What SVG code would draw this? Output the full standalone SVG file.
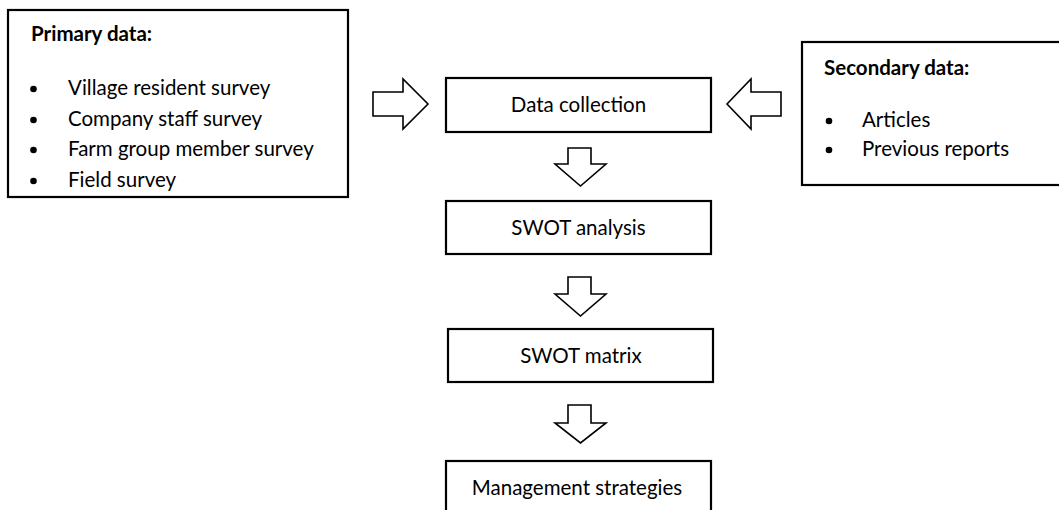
<svg xmlns="http://www.w3.org/2000/svg" width="1059" height="510" viewBox="0 0 1059 510">
  <style>
    .box { fill: #ffffff; stroke: #000000; stroke-width: 2.2; }
    .arrow { fill: #ffffff; stroke: #000000; stroke-width: 1.6; stroke-linejoin: miter; }
    .label { font-family: Lato, "Open Sans", "Liberation Sans", sans-serif; font-size: 20.5px; fill: #000000; }
    .title { font-weight: bold; }
    .mid { text-anchor: middle; }
    .dot { fill: #000000; }
  </style>
  <defs>
    <!-- the list of sources is cut off at the lower edge of its frame -->
    <clipPath id="primary-clip">
      <rect x="8" y="10" width="340" height="182"/>
    </clipPath>
  </defs>
  <rect width="1059" height="510" fill="#ffffff"/>

  <g id="primary-data">
    <rect class="box" x="8" y="10" width="340" height="187"/>
    <g clip-path="url(#primary-clip)">
      <text class="label title" x="31" y="41">Primary data:</text>
      <circle class="dot" cx="33.5" cy="89" r="3.3"/>
      <text class="label" x="68" y="95">Village resident survey</text>
      <circle class="dot" cx="33.5" cy="120" r="3.3"/>
      <text class="label" x="68" y="126">Company staff survey</text>
      <circle class="dot" cx="33.5" cy="150" r="3.3"/>
      <text class="label" x="68" y="156">Farm group member survey</text>
      <circle class="dot" cx="33.5" cy="181" r="3.3"/>
      <text class="label" x="68" y="187">Field survey</text>
    </g>
  </g>

  <g id="secondary-data">
    <rect class="box" x="802" y="42" width="270" height="143"/>
    <text class="label title" x="824" y="75">Secondary data:</text>
    <circle class="dot" cx="829" cy="121" r="3.3"/>
    <text class="label" x="862" y="127">Articles</text>
    <circle class="dot" cx="829" cy="150" r="3.3"/>
    <text class="label" x="862" y="156">Previous reports</text>
  </g>

  <g id="data-collection">
    <rect class="box" x="446" y="78" width="265" height="54"/>
    <text class="label mid" x="578.5" y="112">Data collection</text>
  </g>

  <g id="swot-analysis">
    <rect class="box" x="446" y="201" width="265" height="53"/>
    <text class="label mid" x="578.5" y="235">SWOT analysis</text>
  </g>

  <g id="swot-matrix">
    <rect class="box" x="448" y="329" width="265" height="53"/>
    <text class="label mid" x="581" y="363">SWOT matrix</text>
  </g>

  <g id="management-strategies">
    <rect class="box" x="446" y="461" width="265" height="70"/>
    <text class="label mid" x="577" y="495">Management strategies</text>
  </g>

  <g id="connectors">
    <!-- block arrows feeding the data collection step -->
    <polygon class="arrow" points="373,92 403,92 403,79 428,104 403,129 403,116 373,116"/>
    <polygon class="arrow" points="781,92 751,92 751,79 727,104 751,129 751,116 781,116"/>
    <!-- downward block arrows between the steps -->
    <polygon class="arrow" points="568,148 591,148 591,164 606,164 580.5,186 555,164 568,164"/>
    <polygon class="arrow" points="568,277 591,277 591,294 606,294 580.5,316 555,294 568,294"/>
    <polygon class="arrow" points="568,405 591,405 591,423 606,423 580.5,443 555,423 568,423"/>
  </g>
</svg>
